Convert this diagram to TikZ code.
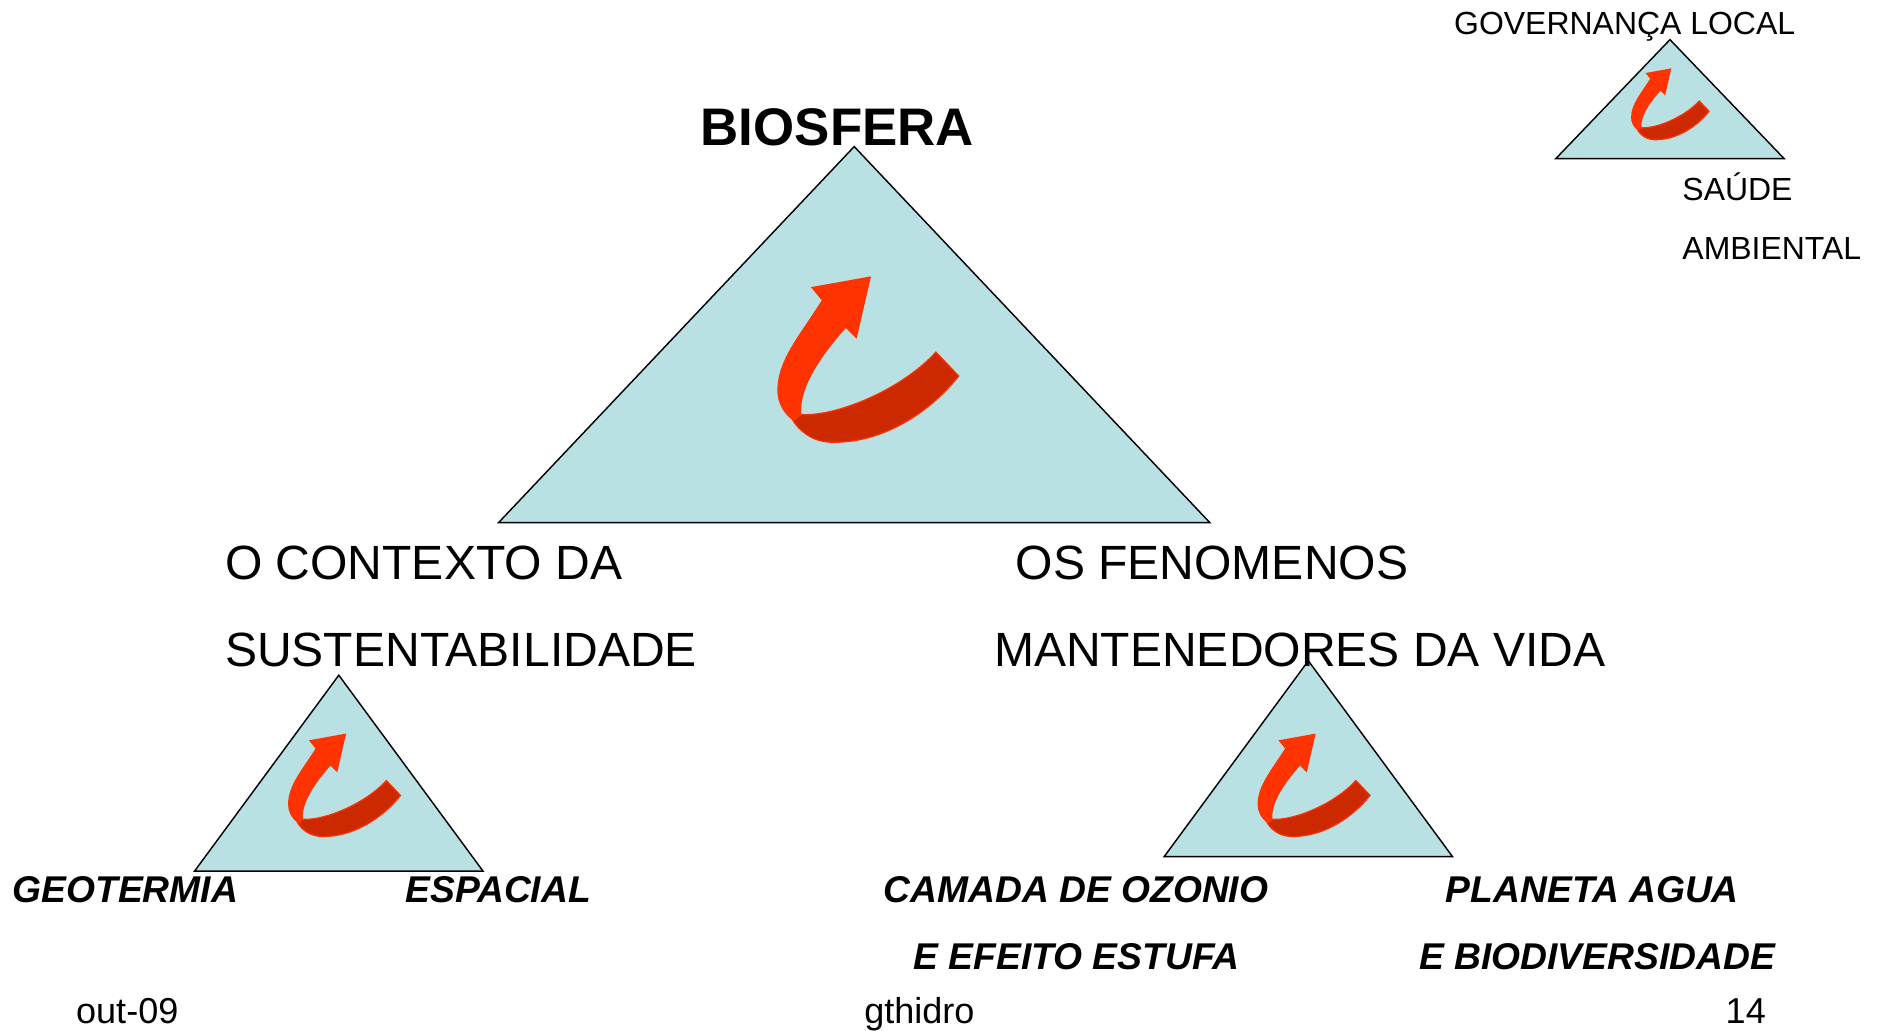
\documentclass[tikz,border=0pt]{standalone}
\usepackage{fontspec}
\setmainfont{Liberation Sans}
\definecolor{trifill}{RGB}{185,224,227}
\definecolor{arrowbright}{RGB}{255,51,0}
\definecolor{arrowdark}{RGB}{204,41,0}
\tikzset{
  ribbonarrow/.pic={
    \filldraw[fill=arrowdark, draw=arrowbright, line width=0.5pt]
      (-53,45) .. controls (-25,47) and (30,25) .. (59,-7) -- (78,13)
      .. controls (55,42) and (15,70) .. (-30,68)
      .. controls (-45,67) and (-55,58) .. (-60,50) -- cycle;
    \fill[arrowbright]
      (5,-70) -- (-45,-61) -- (-36,-50)
      .. controls (-55,-20) and (-73,0) .. (-73,25)
      .. controls (-73,35) and (-68,44) .. (-60,50) -- (-53,45)
      .. controls (-55,25) and (-40,0) .. (-16,-27) -- (-7,-18) -- cycle;
  }
}
\begin{document}
\begin{tikzpicture}[x=0.5pt,y=-0.5pt,
  tri/.style={fill=trifill,draw=black,line width=0.6pt,line join=miter},
  titletxt/.style={inner sep=0pt,font=\fontsize{22}{26}\selectfont\bfseries},
  midtxt/.style={inner sep=0pt,anchor=base west,font=\fontsize{20}{24}\selectfont},
  labtxt/.style={inner sep=0pt,anchor=base west,font=\fontsize{15.5}{18}\selectfont\bfseries\itshape},
  smalltxt/.style={inner sep=0pt,anchor=base west,font=\fontsize{13.3}{16}\selectfont},
  foottxt/.style={inner sep=0pt,anchor=base west,font=\fontsize{15}{18}\selectfont}]
\useasboundingbox (0,0) rectangle (1564,858);
% big triangle
\coordinate (bA) at (711,122);
\coordinate (bL) at (415,435);
\coordinate (bR) at (1007,435);
\filldraw[tri] (bA) -- (bL) -- (bR) -- cycle;
% left small triangle
\coordinate (lA) at (282,562);
\coordinate (lL) at (162,725);
\coordinate (lR) at (402,725);
\filldraw[tri] (lA) -- (lL) -- (lR) -- cycle;
% right small triangle
\coordinate (rA) at (1089,550);
\coordinate (rL) at (969,713);
\coordinate (rR) at (1209,713);
\filldraw[tri] (rA) -- (rL) -- (rR) -- cycle;
% top right triangle
\coordinate (tA) at (1390,33);
\coordinate (tL) at (1295,132);
\coordinate (tR) at (1485,132);
\filldraw[tri] (tA) -- (tL) -- (tR) -- cycle;
% arrows
\pic at (720,300) {ribbonarrow};
\pic[scale=0.62] at (285,654) {ribbonarrow};
\pic[scale=0.62] at (1092,654) {ribbonarrow};
\pic[scale=0.43] at (1389,87) {ribbonarrow};
% texts
\node[titletxt,anchor=base] (bio) at (697,121) {BIOSFERA};
\node[midtxt] (ctx1) at (187,482) {O CONTEXTO DA};
\node[midtxt] (ctx2) at (187,555) {SUSTENTABILIDADE};
\node[midtxt] (fen1) at (845,482) {OS FENOMENOS};
\node[midtxt] (fen2) at (827,555) {MANTENEDORES DA VIDA};
\node[labtxt] (geo) at (10,751) {GEOTERMIA};
\node[labtxt] (esp) at (337,751) {ESPACIAL};
\node[labtxt] (cam1) at (735,751) {CAMADA DE OZONIO};
\node[labtxt] (cam2) at (760,807) {E EFEITO ESTUFA};
\node[labtxt] (pla1) at (1203,751) {PLANETA AGUA};
\node[labtxt] (pla2) at (1181,807) {E BIODIVERSIDADE};
\node[smalltxt] (gov) at (1210,28.5) {GOVERNANÇA LOCAL};
\node[smalltxt] (sau) at (1400,167) {SAÚDE};
\node[smalltxt] (amb) at (1400,216) {AMBIENTAL};
\node[foottxt] (date) at (63,852) {out-09};
\node[foottxt] (org) at (719,852) {gthidro};
\node[foottxt] (pg) at (1436,852) {14};
\end{tikzpicture}
\end{document}
